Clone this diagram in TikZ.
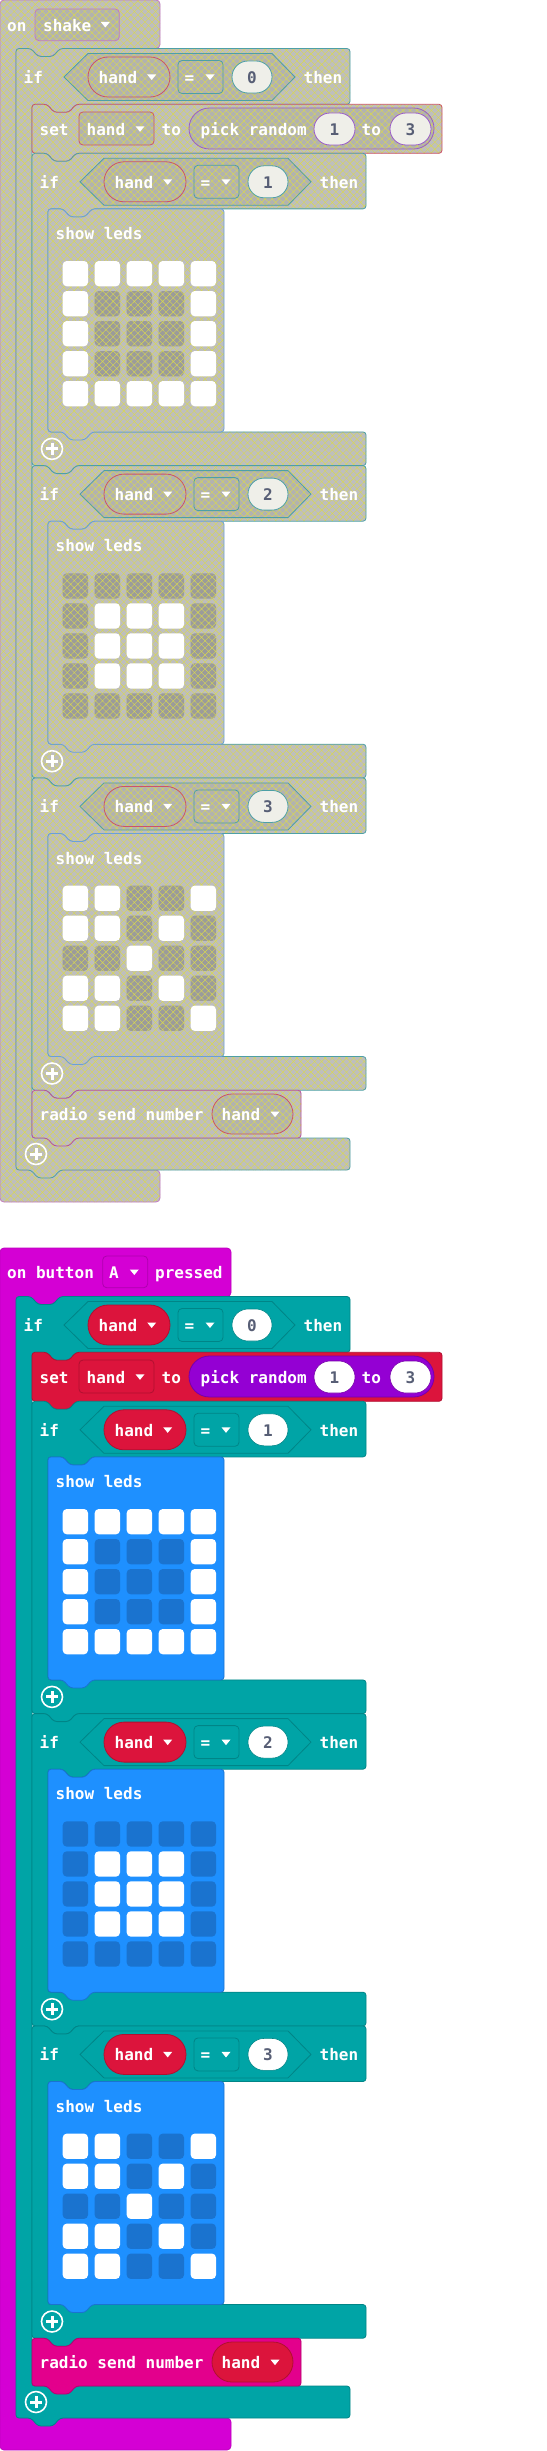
\documentclass[tikz,border=0pt]{standalone}
\usepackage{fontspec}
\setmonofont{DejaVu Sans Mono}
\usetikzlibrary{patterns.meta}

\definecolor{hatc}{HTML}{D400D4}
\definecolor{hatd}{HTML}{AE00AE}
\definecolor{logicc}{HTML}{00A4A6}
\definecolor{logicd}{HTML}{008587}
\definecolor{varc}{HTML}{DC143C}
\definecolor{vard}{HTML}{B01030}
\definecolor{mathc}{HTML}{9400D3}
\definecolor{mathd}{HTML}{7600A9}
\definecolor{basicc}{HTML}{1E90FF}
\definecolor{basicd}{HTML}{1A73CF}
\definecolor{radioc}{HTML}{E3008C}
\definecolor{radiod}{HTML}{B60070}
\definecolor{numtext}{HTML}{575E75}
\definecolor{offfill}{HTML}{BEBEBE}
\definecolor{offfill2}{HTML}{B2B2B0}
\definecolor{offled}{HTML}{9B9B9B}
\definecolor{offnum}{HTML}{EFEFE9}
\definecolor{hatchc}{HTML}{D9D94E}
\definecolor{hatoff}{HTML}{C27AC2}
\definecolor{logicoff}{HTML}{4DA0A6}
\definecolor{varoff}{HTML}{CC5468}
\definecolor{mathoff}{HTML}{9A5CC8}
\definecolor{basicoff}{HTML}{6AA0D8}
\definecolor{radiooff}{HTML}{B8509A}

\newcommand\blkfont{\ttfamily\bfseries\fontsize{16}{16}\selectfont}

\tikzset{
  lbl/.style={text=white, font=\blkfont, anchor=west, inner sep=0pt, text height=12.5pt, text depth=0pt},
  numpill/.style={font=\blkfont, text=numtext, inner sep=0pt, text height=12.5pt, text depth=0pt,
    minimum width=40pt, minimum height=32pt, rounded corners=16pt},
  addbtn/.style={circle, draw=white, line width=1.6pt, minimum size=21pt, inner sep=0pt},
  plusbar/.style={white, line width=3pt},
  hatchfill/.style={pattern={Hatch[angle=45,distance=5pt,line width=0.4pt]}, pattern color=hatchc},
  offblk/.style={preaction={fill=offfill}, hatchfill, line width=0.8pt},
  offin/.style={preaction={fill=offfill2}, hatchfill, line width=0.8pt},
  disabled/.style={
    hatblk/.style={offblk, draw=hatoff},
    logicblk/.style={offblk, draw=logicoff, rounded corners=3},
    logicin/.style={offin, draw=logicoff},
    varblk/.style={offblk, draw=varoff, rounded corners=3},
    varin/.style={offin, draw=varoff},
    mathin/.style={offin, draw=mathoff},
    ledsblk/.style={offblk, draw=basicoff, rounded corners=3},
    radioblk/.style={offblk, draw=radiooff, rounded corners=3},
    hatin/.style={offin, draw=hatoff},
    ledon/.style={fill=white, rounded corners=4},
    ledoff/.style={preaction={fill=offled}, hatchfill, rounded corners=4},
    numlogic/.style={fill=offnum, draw=logicoff, line width=0.8pt},
    nummath/.style={fill=offnum, draw=mathoff, line width=0.8pt}},
  enabled/.style={
    hatblk/.style={fill=hatc, draw=hatc!90!black, line width=0.8pt},
    logicblk/.style={fill=logicc, draw=logicd, line width=0.8pt, rounded corners=3},
    logicin/.style={fill=logicc, draw=logicd, line width=0.8pt},
    varblk/.style={fill=varc, draw=vard, line width=0.8pt, rounded corners=3},
    varin/.style={fill=varc, draw=vard, line width=0.8pt},
    mathin/.style={fill=mathc, draw=mathd, line width=0.8pt},
    ledsblk/.style={fill=basicc, draw=basicd, line width=0.8pt, rounded corners=3},
    radioblk/.style={fill=radioc, draw=radiod, line width=0.8pt, rounded corners=3},
    hatin/.style={fill=hatc, draw=hatd, line width=0.8pt},
    ledon/.style={fill=white, rounded corners=4},
    ledoff/.style={fill=basicd, rounded corners=4},
    numlogic/.style={fill=white, draw=logicd, line width=0.6pt},
    nummath/.style={fill=white, draw=mathd, line width=0.6pt}},
}

\newcommand{\dropdn}[2]{\fill[white] (#1-4.5,#2-2.5) -- (#1+4.5,#2-2.5) -- (#1,#2+3) -- cycle;}

\newcommand{\ledgrid}[2]{%
  \foreach \val [count=\idx from 0] in {#2} {
    \pgfmathtruncatemacro\ledcol{mod(\idx,5)}
    \pgfmathtruncatemacro\ledrow{div(\idx,5)}
    \ifnum\val=1\relax
      \path[ledon] (62.7+32*\ledcol,#1+30*\ledrow) rectangle ++(25.3,25.3);
    \else
      \path[ledoff] (62.7+32*\ledcol,#1+30*\ledrow) rectangle ++(25.3,25.3);
    \fi
  }}

\newcommand{\condhead}[2]{%
  \node[lbl] (#1-if) at (39.5,28.5) {if};
  \draw[logicin] (80,28.5) -- (104,5) -- (288,5) -- (311,28.5) -- (288,52) -- (104,52) -- cycle;
  \draw[varin, rounded corners=20] (104,8.5) rectangle (186,48.5);
  \node[lbl] (#1-var) at (114.5,28.5) {hand};
  \dropdn{167.7}{28.5}
  \draw[logicin, rounded corners=4] (194,12) rectangle (239,45);
  \node[lbl] (#1-op) at (200.5,28.5) {=};
  \dropdn{226}{28.5}
  \node[numpill, numlogic] (#1-num) at (268,28.5) {#2};
  \node[lbl] (#1-then) at (319.5,28.5) {then};
}

\newcommand{\condblock}[4]{%
  \begin{scope}[shift={(0,#2)}]
    \draw[logicblk] (32,0) -- (47,0) -- (54,8) -- (69,8) -- (76,0) -- (366,0) -- (366,55.6)
      -- (92,55.6) -- (85,63.6) -- (70,63.6) -- (63,55.6) -- (48,55.6) -- (48,278.6) -- (366,278.6)
      -- (366,312.3) -- (76,312.3) -- (69,320.3) -- (54,320.3) -- (47,312.3) -- (32,312.3) -- cycle;
    \condhead{#1}{#3}
    \draw[ledsblk] (48,55.6) -- (63,55.6) -- (70,63.6) -- (85,63.6) -- (92,55.6) -- (224,55.6)
      -- (224,278.6) -- (92,278.6) -- (85,286.6) -- (70,286.6) -- (63,278.6) -- (48,278.6) -- cycle;
    \node[lbl] (#1-leds) at (55.5,80) {show leds};
    \ledgrid{107.7}{#4}
    \node[addbtn] (#1-add) at (52,295.6) {};
    \draw[plusbar] (46,295.6) -- (58,295.6) (52,289.6) -- (52,301.6);
  \end{scope}}

\newcommand{\program}[2]{%
  % hat
  \draw[hatblk, rounded corners=4] (0,0) -- (#2,0) -- (#2,48.5) -- (60,48.5) -- (53,56.5) -- (38,56.5)
    -- (31,48.5) -- (16,48.5) -- (16,1170) -- (#2,1170) -- (#2,1202) -- (0,1202) -- cycle;
  % outer if
  \draw[logicblk] (16,48.5) -- (31,48.5) -- (38,56.5) -- (53,56.5) -- (60,48.5) -- (350,48.5) -- (350,104.3)
    -- (76,104.3) -- (69,112.3) -- (54,112.3) -- (47,104.3) -- (32,104.3) -- (32,1138) -- (350,1138)
    -- (350,1170) -- (60,1170) -- (53,1178) -- (38,1178) -- (31,1170) -- (16,1170) -- cycle;
  \begin{scope}[shift={(-16,48.5)}]
    \condhead{#1-c0}{0}
  \end{scope}
  % set
  \draw[varblk] (32,104.3) -- (47,104.3) -- (54,112.3) -- (69,112.3) -- (76,104.3) -- (442,104.3) -- (442,153.3)
    -- (76,153.3) -- (69,161.3) -- (54,161.3) -- (47,153.3) -- (32,153.3) -- cycle;
  \node[lbl] (#1-set) at (39.5,128.8) {set};
  \draw[varin, rounded corners=4] (79,112) rectangle (154,145);
  \node[lbl] (#1-setvar) at (86.5,128.8) {hand};
  \dropdn{140}{128.8}
  \node[lbl] (#1-to) at (161.5,128.8) {to};
  \draw[mathin, rounded corners=20.5] (189,108) rectangle (434,149);
  \node[lbl] (#1-rnd) at (200.5,128.8) {pick random};
  \node[numpill, nummath, minimum width=41pt] (#1-lo) at (334.5,129) {1};
  \node[lbl] (#1-to2) at (361.5,128.8) {to};
  \node[numpill, nummath, minimum width=41pt] (#1-hi) at (410.5,129) {3};
  % the three ifs
  \condblock{#1-c1}{153.3}{1}{1,1,1,1,1,1,0,0,0,1,1,0,0,0,1,1,0,0,0,1,1,1,1,1,1}
  \condblock{#1-c2}{465.6}{2}{0,0,0,0,0,0,1,1,1,0,0,1,1,1,0,0,1,1,1,0,0,0,0,0,0}
  \condblock{#1-c3}{777.9}{3}{1,1,0,0,1,1,1,0,1,0,0,0,1,0,0,1,1,0,1,0,1,1,0,0,1}
  % radio
  \draw[radioblk] (32,1090.2) -- (47,1090.2) -- (54,1098.2) -- (69,1098.2) -- (76,1090.2) -- (301,1090.2)
    -- (301,1138) -- (76,1138) -- (69,1146) -- (54,1146) -- (47,1138) -- (32,1138) -- cycle;
  \node[lbl] (#1-radio) at (39.5,1114.1) {radio send number};
  \draw[varin, rounded corners=20] (212,1094) rectangle (293,1134);
  \node[lbl] (#1-sendvar) at (221.5,1114.1) {hand};
  \dropdn{275}{1114.1}
  \node[addbtn] (#1-add) at (36,1154) {};
  \draw[plusbar] (30,1154) -- (42,1154) (36,1148) -- (36,1160);
}

\begin{document}
\begin{tikzpicture}[x=1pt,y=-1pt]
  \useasboundingbox (0,0) rectangle (546,2451);
  \fill[white] (0,0) rectangle (546,2451);

  \begin{scope}[disabled]
    \program{t}{160}
    \draw[hatin, rounded corners=4] (35,9) rectangle (119.3,40.7);
    \node[lbl] (t-on) at (7,25) {on};
    \node[lbl] (t-event) at (43,25) {shake};
    \dropdn{105.3}{24.5}
  \end{scope}

  \begin{scope}[enabled, shift={(0,1248)}]
    \program{b}{231}
    \draw[hatin, rounded corners=4] (102.7,8) rectangle (147.7,39.7);
    \node[lbl] (b-on) at (7,24.5) {on button};
    \node[lbl] (b-btn) at (109,24.5) {A};
    \dropdn{134.3}{24}
    \node[lbl] (b-pressed) at (155,24.5) {pressed};
  \end{scope}
\end{tikzpicture}
\end{document}
